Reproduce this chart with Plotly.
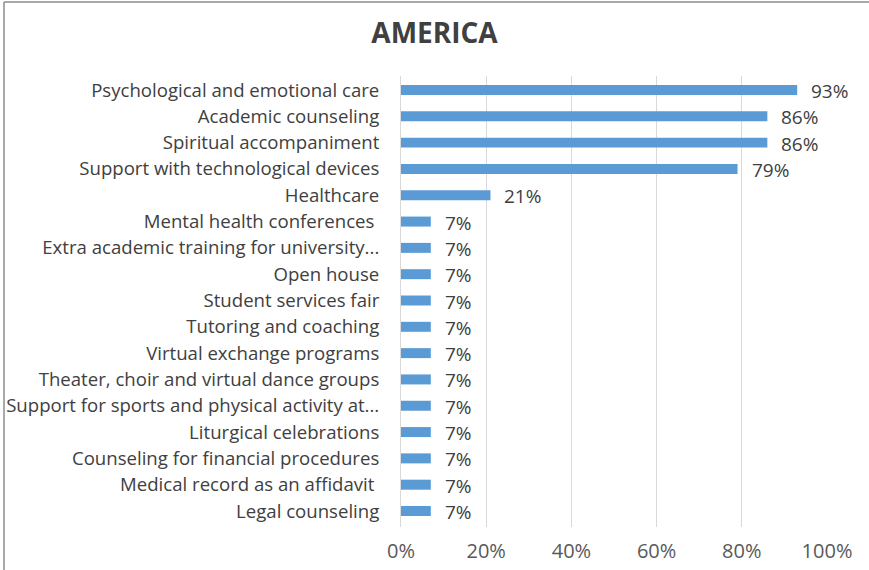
import plotly.graph_objects as go

# Services offered, top to bottom
services = [
    "Psychological and emotional care",
    "Academic counseling",
    "Spiritual accompaniment",
    "Support with technological devices",
    "Healthcare",
    "Mental health conferences\u00a0",
    "Extra academic training for university...",
    "Open house",
    "Student services fair",
    "Tutoring and coaching",
    "Virtual exchange programs",
    "Theater, choir and virtual dance groups",
    "Support for sports and physical activity at...",
    "Liturgical celebrations",
    "Counseling for financial procedures",
    "Medical record as an affidavit\u00a0",
    "Legal counseling",
]
share_pct = [93, 86, 86, 79, 21, 7, 7, 7, 7, 7, 7, 7, 7, 7, 7, 7, 7]
x_ticks = [0, 20, 40, 60, 80, 100]
x_tick_labels = ["0%", "20%", "40%", "60%", "80%", "100%"]

W, H = 869, 570
ML, MR, MT, MB = 401, 42, 76, 43
FONT = "'Open Sans', sans-serif"

fig = go.Figure(
    go.Bar(
        x=share_pct,
        y=services,
        orientation="h",
        marker=dict(color="#5b9bd5", line=dict(width=0)),
        hoverinfo="x+y",
    )
)

# value labels to the right of each bar
for s, v in zip(services, share_pct):
    fig.add_annotation(
        x=v, y=s, text=f"{v}%", showarrow=False,
        xanchor="left", xshift=12, yshift=-1,
        font=dict(family=FONT, size=19, color="#404040"),
    )

# outer frame (left and top edges)
pw = W - ML - MR
ph = H - MT - MB
def px_x(p):
    return (p - ML) / pw
def px_y(p):
    return 1 - (p - MT) / ph

fig.add_shape(type="line", xref="paper", yref="paper",
              x0=px_x(4), x1=px_x(W + 5), y0=px_y(2), y1=px_y(2),
              line=dict(color="#8c8c8c", width=1.5))
fig.add_shape(type="line", xref="paper", yref="paper",
              x0=px_x(4), x1=px_x(4), y0=px_y(2), y1=px_y(H + 5),
              line=dict(color="#8c8c8c", width=1.5))

fig.update_layout(
    width=W, height=H,
    margin=dict(l=ML, r=MR, t=MT, b=MB),
    paper_bgcolor="white", plot_bgcolor="white",
    bargap=0.62,
    showlegend=False,
    title=dict(
        text="<b>AMERICA</b>", x=0.5, xanchor="center",
        y=1 - 33 / H, yanchor="middle",
        font=dict(family=FONT, size=28, color="#404040"),
    ),
    font=dict(family=FONT, size=18.6, color="#595959"),
)
fig.update_xaxes(
    range=[0, 100], tickvals=x_ticks, ticktext=x_tick_labels,
    showgrid=True, gridcolor="#d9d9d9", gridwidth=1,
    zeroline=False, showline=False,
    ticks="outside", ticklen=6, tickcolor="rgba(0,0,0,0)",
    tickfont=dict(family=FONT, size=20, color="#595959"),
    automargin=False, fixedrange=True,
)
fig.update_yaxes(
    categoryorder="array", categoryarray=services[::-1],
    showgrid=False, zeroline=False,
    showline=True, linecolor="#d9d9d9", linewidth=1,
    ticks="", ticklabelstandoff=17,
    tickfont=dict(family=FONT, size=18.6, color="#404040"),
    automargin=False, fixedrange=True,
)

fig.write_html("out.html")
